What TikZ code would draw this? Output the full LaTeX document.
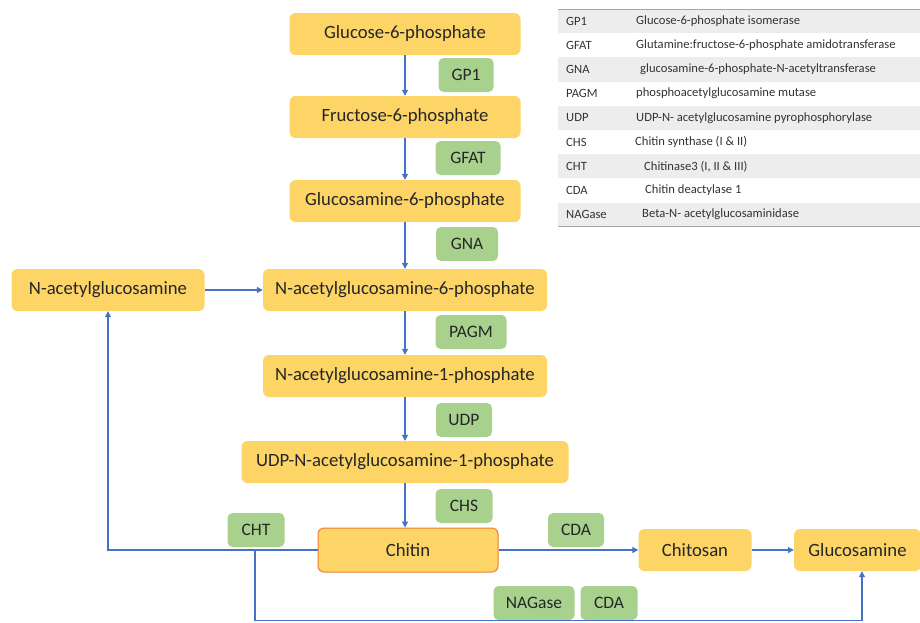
\documentclass[tikz,border=0pt]{standalone}
\usepackage{fontspec}
\setmainfont{Carlito}
\usetikzlibrary{arrows.meta}
\definecolor{metabfill}{HTML}{FDD466}
\definecolor{enzfill}{HTML}{A9D18E}
\definecolor{linkblue}{HTML}{4472C4}
\definecolor{chitinline}{HTML}{ED7D31}
\definecolor{rowgray}{HTML}{EDEDED}
\definecolor{rulegray}{HTML}{A6A6A6}
\definecolor{tabtext}{HTML}{333333}

\begin{document}
\begin{tikzpicture}[x=1pt,y=-1pt]
    \tikzstyle{metab}=[rectangle, rounded corners=6pt, fill=metabfill, minimum height=42pt, inner sep=0pt, font=\fontsize{18.7}{21}\selectfont, text=black!85]
    \tikzstyle{enz}=[rectangle, rounded corners=5pt, fill=enzfill, minimum height=34pt, inner sep=0pt, font=\fontsize{17.5}{20}\selectfont, text=black!85]
    \tikzstyle{edge}=[linkblue, line width=1.2pt, -{Triangle[length=6pt,width=6pt]}]
    \tikzstyle{tab}=[anchor=west, inner sep=0pt, font=\fontsize{12.6}{14}\selectfont, text=tabtext]

    \useasboundingbox (0,0) rectangle (920,622);

    % enzyme table
    \foreach \i in {1,3,5,7,9}
        \fill[rowgray] (558,{9+24.2*(\i-1)}) rectangle (920,{9+24.2*\i});
    \draw[rulegray, line width=1pt] (558,9) -- (920,9);
    \draw[rulegray, line width=1pt] (558,226.8) -- (920,226.8);
    \foreach \ab/\dx/\desc [count=\i] in {GP1/0/{Glucose-6-phosphate isomerase},
            GFAT/0/{Glutamine:fructose-6-phosphate amidotransferase},
            GNA/4/{glucosamine-6-phosphate-N-acetyltransferase},
            PAGM/0/{phosphoacetylglucosamine mutase},
            UDP/0/{UDP-N- acetylglucosamine pyrophosphorylase},
            CHS/-1/{Chitin synthase (I \& II)},
            CHT/8/{Chitinase3 (I, II \& III)},
            CDA/9/{Chitin deactylase 1},
            NAGase/6/{Beta-N- acetylglucosaminidase}} {
        \node[tab] (abbr\i) at (566,{9+24.2*(\i-0.5)}) {\ab};
        \node[tab] (desc\i) at ({636+\dx},{9+24.2*(\i-0.5)}) {\desc};
    }

    % metabolites
    \node[metab, minimum width=231pt] (g6p) at (405,34) {Glucose-6-phosphate};
    \node[metab, minimum width=231pt] (f6p) at (405,117) {Fructose-6-phosphate};
    \node[metab, minimum width=231pt] (gln6p) at (405,201) {Glucosamine-6-phosphate};
    \node[metab, minimum width=284pt] (nag6p) at (405,290) {N-acetylglucosamine-6-phosphate};
    \node[metab, minimum width=193pt] (nag) at (108,290) {N-acetylglucosamine};
    \node[metab, minimum width=284pt] (nag1p) at (405,376) {N-acetylglucosamine-1-phosphate};
    \node[metab, minimum width=327pt] (udpnag) at (405,462) {UDP-N-acetylglucosamine-1-phosphate};
    \node[metab, minimum width=180pt, minimum height=44pt, draw=chitinline, line width=1pt] (chitin) at (408,550) {Chitin};
    \node[metab, minimum width=113pt] (chitosan) at (695,550) {Chitosan};
    \node[metab, minimum width=127pt] (glcn) at (857.5,550) {Glucosamine};

    % enzymes
    \node[enz, minimum width=55pt] (gp1) at (466,75) {GP1};
    \node[enz, minimum width=65pt] (gfat) at (468,158) {GFAT};
    \node[enz, minimum width=62pt] (gna) at (467,244) {GNA};
    \node[enz, minimum width=71pt] (pagm) at (471,332) {PAGM};
    \node[enz, minimum width=56pt] (udp) at (464,420) {UDP};
    \node[enz, minimum width=57pt] (chs) at (464,506) {CHS};
    \node[enz, minimum width=57pt] (cht) at (256,530) {CHT};
    \node[enz, minimum width=56pt] (cda) at (576,530) {CDA};
    \node[enz, minimum width=81pt] (nagase) at (534,603) {NAGase};
    \node[enz, minimum width=57pt] (cdb) at (609,603) {CDA};

    \coordinate (split) at (255,550);
    \coordinate (low) at (255,620.5);
    \coordinate (up) at (862,620.5);

    \draw[edge] (g6p) -- (f6p);
    \draw[edge] (f6p) -- (gln6p);
    \draw[edge] (gln6p) -- (nag6p);
    \draw[edge] (nag6p) -- (nag1p);
    \draw[edge] (nag1p) -- (udpnag);
    \draw[edge] (udpnag.south) -- (udpnag.south |- chitin.north);
    \draw[edge] (nag) -- (nag6p);
    \draw[edge] (chitin.west) -| (nag.south);
    \draw[edge] (split) -- (low) -- (up) -- (up |- glcn.south);
    \draw[edge] (chitin) -- (chitosan);
    \draw[edge] (chitosan) -- (glcn);
\end{tikzpicture}
\end{document}
